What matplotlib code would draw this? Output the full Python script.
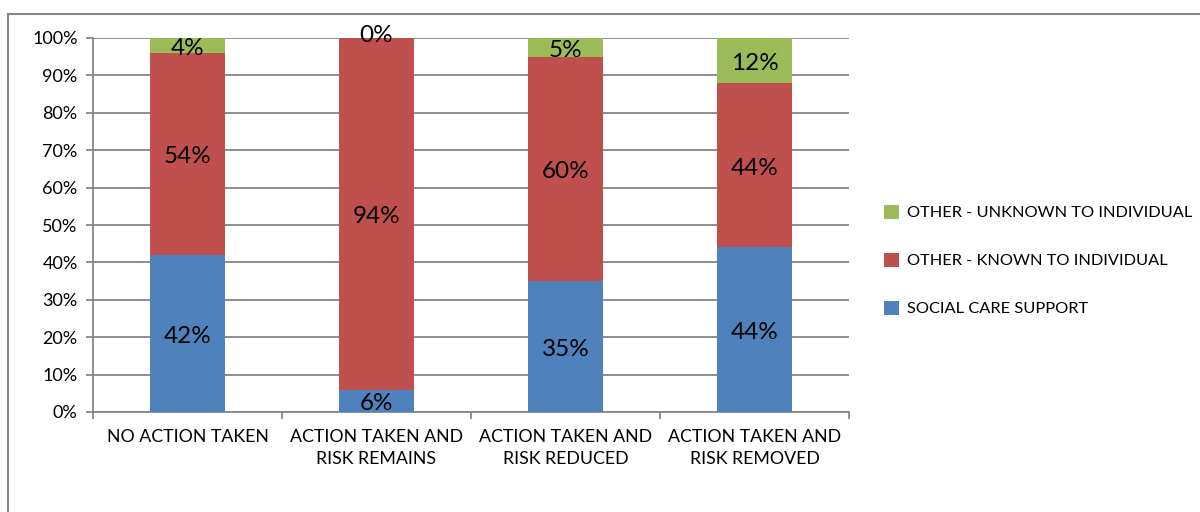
import numpy as np
import matplotlib
matplotlib.use('Agg')
import matplotlib.pyplot as plt
from matplotlib.patches import Rectangle

plt.rcParams['font.family'] = ['Lato', 'DejaVu Sans']

categories = ['NO ACTION TAKEN', 'ACTION TAKEN AND\nRISK REMAINS',
              'ACTION TAKEN AND\nRISK REDUCED', 'ACTION TAKEN AND\nRISK REMOVED']
social_care = [42, 6, 35, 44]
known = [54, 94, 60, 44]
unknown = [4, 0, 5, 12]
series_names = ['SOCIAL CARE SUPPORT', 'OTHER - KNOWN TO INDIVIDUAL',
                'OTHER - UNKNOWN TO INDIVIDUAL']
colors = ['#4F81BD', '#C0504D', '#9BBB59']
grey = '#868686'

fig = plt.figure(figsize=(12, 5.12), dpi=100)
ax = fig.add_axes([93 / 1200, 100 / 512, 756 / 1200, 374 / 512])

data = np.array([social_care, known, unknown], dtype=float)
share = data / data.sum(axis=0)
x = np.arange(len(categories))
bottom = np.zeros(len(categories))
bars = []
for vals, raw, col, name in zip(share, data, colors, series_names):
    b = ax.bar(x, vals, 0.4, bottom=bottom, color=col, label=name,
               edgecolor='none', zorder=3)
    bars.append(b)
    for xi, v, r, bt in zip(x, vals, raw, bottom):
        yc = bt + v / 2
        # offset in pixels, zero-height segment label sits just above the bar
        dy = -3
        if v == 0:
            dy = 2
        ax.annotate(f'{r:.0f}%', (xi, yc), xytext=(0, dy), textcoords='offset pixels',
                    ha='center', va='center', fontsize=17.5, color='black', zorder=4)
    bottom += vals

ax.set_xlim(-0.5, len(categories) - 0.5)
ax.set_ylim(0, 1)
ax.set_yticks(np.linspace(0, 1, 11))
ax.set_yticklabels([f'{int(v)}%' for v in np.arange(0, 101, 10)], fontsize=13)
ax.set_xticks(x)
ax.set_xticklabels(categories, fontsize=12.8, linespacing=1.45)
ax.set_xticks(np.arange(-0.5, len(categories)), minor=True)
ax.tick_params(axis='x', which='major', length=0, pad=12)
ax.tick_params(axis='x', which='minor', length=5, width=1.3, color=grey)
ax.tick_params(axis='y', length=5, width=1.3, color=grey, pad=6)
ax.grid(axis='y', color=grey, lw=1.3, zorder=0)
for s in ['top', 'right']:
    ax.spines[s].set_visible(False)
for s in ['left', 'bottom']:
    ax.spines[s].set_color(grey)
    ax.spines[s].set_linewidth(1.3)

handles = bars[::-1]
labels = series_names[::-1]
ax.legend(handles, labels, loc='upper left', bbox_to_anchor=(869 / 1200, 322 / 512),
          bbox_transform=fig.transFigure, frameon=False, fontsize=11.8,
          handlelength=0.95, handleheight=0.95, labelspacing=1.97, handletextpad=0.45)

fig.patches.append(Rectangle((7.5 / 1200, -0.1), 1.2, 1 - 13.5 / 512 + 0.1,
                             transform=fig.transFigure, fill=False,
                             edgecolor=grey, lw=1.5))

fig.savefig('out.png', dpi=100, facecolor='white')
